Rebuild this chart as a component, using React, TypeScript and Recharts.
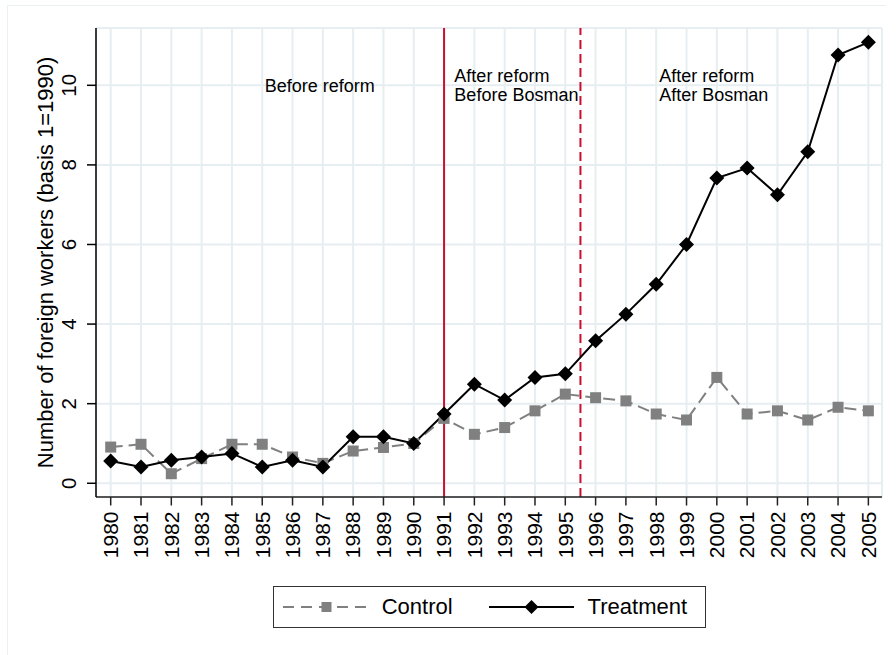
import React from "react";
import {
  LineChart,
  Line,
  XAxis,
  YAxis,
  CartesianGrid,
  ReferenceLine,
  ReferenceDot,
  Legend,
} from "recharts";

const FONT = "'Liberation Sans', Arial, Helvetica, sans-serif";

const years = [
  1980, 1981, 1982, 1983, 1984, 1985, 1986, 1987, 1988, 1989, 1990, 1991, 1992,
  1993, 1994, 1995, 1996, 1997, 1998, 1999, 2000, 2001, 2002, 2003, 2004, 2005,
];
const control = [
  0.91, 0.98, 0.24, 0.62, 0.98, 0.98, 0.66, 0.5, 0.81, 0.9, 1.0, 1.63, 1.23,
  1.4, 1.82, 2.24, 2.15, 2.07, 1.74, 1.59, 2.66, 1.74, 1.82, 1.59, 1.91, 1.82,
];
const treatment = [
  0.56, 0.41, 0.58, 0.66, 0.75, 0.41, 0.58, 0.41, 1.17, 1.17, 1.0, 1.74, 2.49,
  2.09, 2.66, 2.75, 3.58, 4.25, 5.0, 6.0, 7.67, 7.92, 7.25, 8.33, 10.76, 11.08,
];
const yTicks = [0, 2, 4, 6, 8, 10];

const reformYear = 1991;
const bosmanYear = 1995.5;

// text boxes of the three periods (x in years, y in data units)
const periods = [
  { x: 1986.9, y: 10, lines: ["Before reform"], anchor: "middle" },
  { x: 1991.34, y: 10, lines: ["After reform", "Before Bosman"], anchor: "start" },
  { x: 1998.1, y: 10, lines: ["After reform", "After Bosman"], anchor: "start" },
];

const data = years.map((year, i) => ({
  year,
  control: control[i],
  treatment: treatment[i],
}));

const RED = "#c8102e";
const GRAY = "#808080";

const Square = ({ cx, cy, size = 11, color = GRAY }: any) => (
  <rect x={cx - size / 2} y={cy - size / 2} width={size} height={size} fill={color} />
);

const Diamond = ({ cx, cy, r = 7.5, color = "#000" }: any) => (
  <polygon
    points={`${cx},${cy - r} ${cx + r},${cy} ${cx},${cy + r} ${cx - r},${cy}`}
    fill={color}
  />
);

const XTick = ({ x, y, payload }: any) => (
  <text
    x={x}
    y={y}
    transform={`rotate(-90, ${x}, ${y})`}
    textAnchor="end"
    dy="0.35em"
    fontSize={21}
    fontFamily={FONT}
    fill="#000"
  >
    {payload.value}
  </text>
);

const YTick = ({ x, y, payload }: any) => (
  <text
    x={x}
    y={y}
    transform={`rotate(-90, ${x}, ${y})`}
    textAnchor="middle"
    dy="0.35em"
    fontSize={20.5}
    fontFamily={FONT}
    fill="#000"
  >
    {payload.value}
  </text>
);

const YTitle = ({ viewBox }: any) => {
  const x = viewBox.x + 37.3;
  const y = viewBox.y + viewBox.height / 2;
  return (
    <text
      x={x}
      y={y}
      transform={`rotate(-90, ${x}, ${y})`}
      textAnchor="middle"
      dy="0.35em"
      fontSize={22}
      fontFamily={FONT}
      fill="#000"
    >
      Number of foreign workers (basis 1=1990)
    </text>
  );
};

const legendStyles: Record<string, { dash?: string; marker: "square" | "diamond"; color: string }> = {
  Control: { dash: "11 7", marker: "square", color: GRAY },
  Treatment: { marker: "diamond", color: "#000" },
};

const renderLegend = (props: any) => {
  const { payload } = props;
  return (
    <div
      style={{
        width: 433,
        height: 42,
        border: "1.5px solid #333",
        boxSizing: "border-box",
        display: "flex",
        alignItems: "center",
        paddingLeft: 9,
        background: "#fff",
      }}
    >
      {payload.map((entry: any, index: number) => {
        const s = legendStyles[entry.value];
        return (
          <div
            key={`item-${index}`}
            style={{ display: "flex", alignItems: "center", marginRight: 36 }}
          >
            <svg width={85} height={20}>
              <line
                x1={0}
                x2={85}
                y1={10}
                y2={10}
                stroke={s.color}
                strokeWidth={2}
                strokeDasharray={s.dash}
              />
              {s.marker === "square" ? (
                <Square cx={43.5} cy={10} size={10} color={s.color} />
              ) : (
                <Diamond cx={42.5} cy={10} r={7} color={s.color} />
              )}
            </svg>
            <span
              style={{
                marginLeft: 14,
                fontSize: 22,
                fontFamily: FONT,
                color: "#000",
                lineHeight: "22px",
              }}
            >
              {entry.value}
            </span>
          </div>
        );
      })}
    </div>
  );
};

const PeriodText = ({ cx, cy, lines, anchor }: any) => (
  <text
    x={cx}
    y={cy - ((lines.length - 1) * 19) / 2}
    textAnchor={anchor}
    fontSize={18}
    fontFamily={FONT}
    fill="#000"
  >
    {lines.map((line: string, i: number) => (
      <tspan key={i} x={cx} dy={i === 0 ? "0.35em" : 19}>
        {line}
      </tspan>
    ))}
  </text>
);

export default function App() {
  return (
    <div style={{ position: "absolute", left: 0, top: 0, width: 896, height: 655, background: "#fff" }}>
      <div
        style={{
          position: "absolute",
          left: 7,
          top: 5,
          width: 879,
          height: 650,
          borderLeft: "1.5px solid #e9f0f2",
          borderTop: "1.5px solid #e9f0f2",
          boxSizing: "border-box",
        }}
      />
      <LineChart
        width={896}
        height={655}
        data={data}
        margin={{ top: 28, right: 14, left: 8, bottom: 58 }}
      >
        <CartesianGrid stroke="#e6eef1" strokeWidth={2} />
        <XAxis
          dataKey="year"
          type="number"
          domain={[1979.515, 2005.45]}
          ticks={years}
          interval={0}
          allowDataOverflow
          height={100}
          tickSize={8.5}
          tickMargin={6}
          tick={<XTick />}
          axisLine={{ stroke: "#222", strokeWidth: 1.5 }}
          tickLine={{ stroke: "#222", strokeWidth: 1.5 }}
        />
        <YAxis
          type="number"
          domain={[-0.345, 11.44]}
          ticks={yTicks}
          allowDataOverflow
          width={88}
          tickSize={9}
          tickMargin={18.5}
          tick={<YTick />}
          axisLine={{ stroke: "#000", strokeWidth: 1.5 }}
          tickLine={{ stroke: "#000", strokeWidth: 1.5 }}
          label={<YTitle />}
        />
        <ReferenceLine x={reformYear} stroke={RED} strokeWidth={2} />
        <ReferenceLine
          x={bosmanYear}
          stroke={RED}
          strokeWidth={2}
          strokeDasharray="9 5"
        />
        {periods.map((p, i) => (
          <ReferenceDot
            key={`period-${i}`}
            x={p.x}
            y={p.y}
            r={0}
            shape={(props: any) => (
              <PeriodText cx={props.cx} cy={props.cy} lines={p.lines} anchor={p.anchor} />
            )}
          />
        ))}
        <Line
          type="linear"
          dataKey="control"
          name="Control"
          stroke={GRAY}
          strokeWidth={2}
          strokeDasharray="12 6"
          dot={(props: any) => (
            <Square key={`c-${props.index}`} cx={props.cx} cy={props.cy} />
          )}
          isAnimationActive={false}
        />
        <Line
          type="linear"
          dataKey="treatment"
          name="Treatment"
          stroke="#000"
          strokeWidth={2}
          dot={(props: any) => (
            <Diamond key={`t-${props.index}`} cx={props.cx} cy={props.cy} />
          )}
          isAnimationActive={false}
        />
        <Legend
          layout="horizontal"
          verticalAlign="middle"
          align="center"
          content={renderLegend}
          wrapperStyle={{ left: 272.7, top: 585.7, width: 433, height: 42 }}
        />
      </LineChart>
    </div>
  );
}
